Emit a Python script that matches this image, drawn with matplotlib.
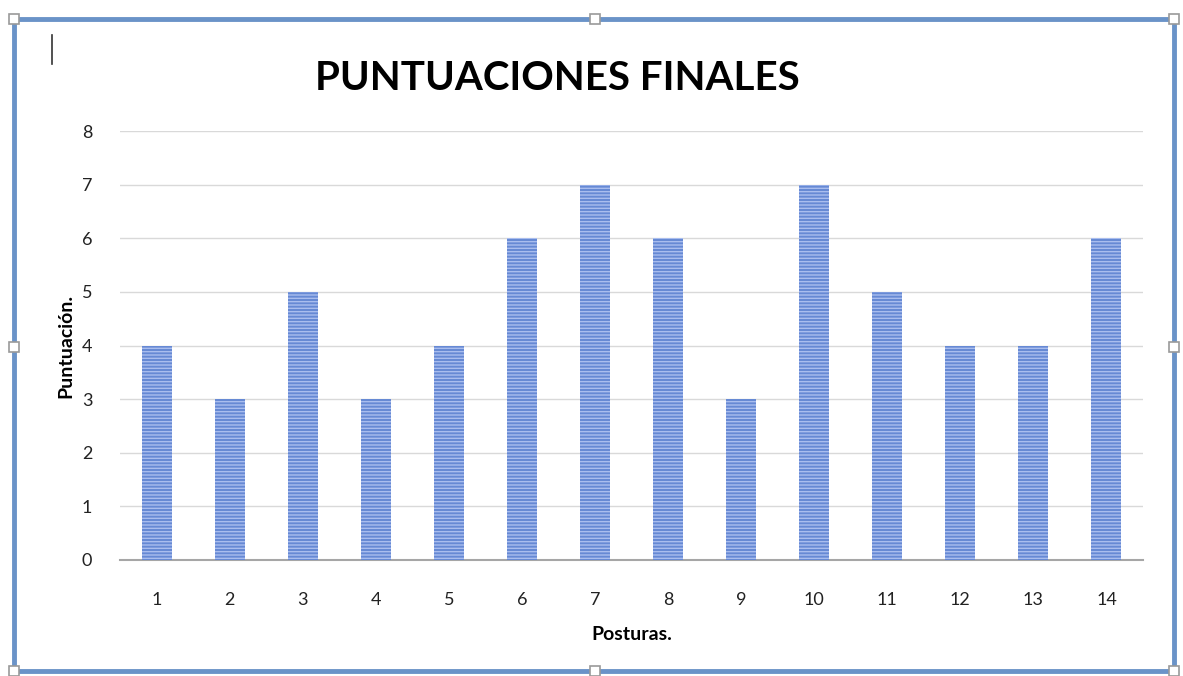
import matplotlib.pyplot as plt
from matplotlib.patches import Rectangle
from matplotlib.lines import Line2D

plt.rcParams['font.family'] = ['Lato', 'DejaVu Sans']
plt.rcParams['hatch.linewidth'] = 1.0

posturas = ['1', '2', '3', '4', '5', '6', '7', '8', '9', '10', '11', '12', '13', '14']
puntuacion = [4, 3, 5, 3, 4, 6, 7, 6, 3, 7, 5, 4, 4, 6]
yticks = [0, 1, 2, 3, 4, 5, 6, 7, 8]

W, H = 1183, 676
fig = plt.figure(figsize=(W / 100, H / 100), dpi=100)
ax = fig.add_axes([120 / W, 1 - 560 / H, (1143 - 120) / W, (560 - 131) / H])

x = range(len(posturas))
ax.bar(x, puntuacion, width=0.41, color='#6689d4', edgecolor='#a9bdee',
       linewidth=0, hatch='-----', zorder=3)

ax.set_xlim(-0.5, len(posturas) - 0.5)
ax.set_ylim(0, 8)
ax.set_xticks(list(x))
ax.set_xticklabels(posturas)
ax.set_yticks(yticks)
ax.tick_params(axis='both', length=0, labelsize=13, colors='#222222')
ax.tick_params(axis='x', pad=23)
ax.tick_params(axis='y', pad=20)
ax.grid(axis='y', color='#d9d9d9', linewidth=1, zorder=0)
for s in ['top', 'right', 'left']:
    ax.spines[s].set_visible(False)
ax.spines['bottom'].set_color('#a6a6a6')
ax.spines['bottom'].set_linewidth(1.5)

ax.set_xlabel('Posturas.', fontsize=14, fontweight='bold', labelpad=13)
ax.set_ylabel('Puntuación.', fontsize=14, fontweight='bold', labelpad=5)

fig.text(557 / W, 1 - 79 / H, 'PUNTUACIONES FINALES', fontsize=29,
         fontweight='bold', ha='center', va='center')

# selection frame of the embedded chart
fig.patches.append(Rectangle((14 / W, 1 - 671 / H), (1174 - 14) / W, (671 - 19) / H,
                             transform=fig.transFigure, fill=False,
                             edgecolor='#6a93c8', linewidth=3.5))
for hx, hy in [(14, 19), (595, 19), (1174, 19), (14, 347), (1174, 347),
               (14, 671), (595, 671), (1174, 671)]:
    fig.patches.append(Rectangle(((hx - 5) / W, 1 - (hy + 5) / H), 10 / W, 10 / H,
                                 transform=fig.transFigure, facecolor='white',
                                 edgecolor='#9a9a9a', linewidth=1.2, zorder=5))
fig.lines.append(Line2D([52 / W, 52 / W], [1 - 35 / H, 1 - 64 / H],
                        transform=fig.transFigure, color='#333333', linewidth=1.2))

fig.savefig('out.png', dpi=100)
